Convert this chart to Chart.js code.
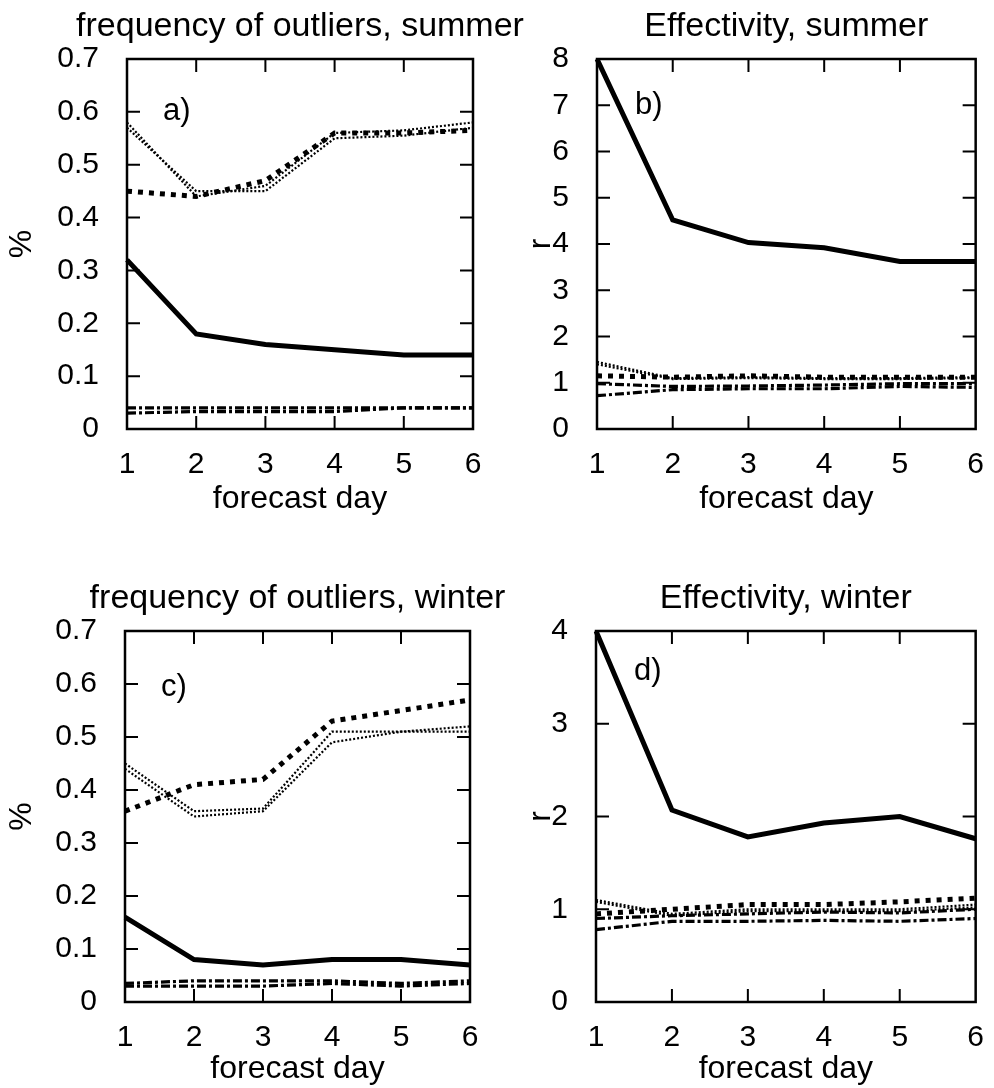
<!DOCTYPE html>
<html>
<head>
<meta charset="utf-8">
<script src="https://cdn.jsdelivr.net/npm/chart.js@4"></script>
<style>
    body { margin: 0; background: #fff; }
    #wrap { position: relative; width: 994px; height: 1088px; }
    canvas { position: absolute; }
</style>
</head>
<body>
<div id="wrap">
    <canvas id="a" width="560" height="544" style="left:0;top:0"></canvas>
    <canvas id="b" width="497" height="544" style="left:497px;top:0"></canvas>
    <canvas id="c" width="560" height="544" style="left:0;top:544px"></canvas>
    <canvas id="d" width="497" height="544" style="left:497px;top:544px"></canvas>
</div>
<script>
const days = ['1', '2', '3', '4', '5', '6'];

// a) frequency of outliers, summer
const freqSummerSolid = [0.32, 0.18, 0.16, 0.15, 0.14, 0.14];
const freqSummerDashed = [0.45, 0.44, 0.47, 0.56, 0.56, 0.565];
const freqSummerDotted1 = [0.58, 0.44, 0.46, 0.56, 0.565, 0.58];
const freqSummerDotted2 = [0.57, 0.45, 0.45, 0.55, 0.555, 0.57];
const freqSummerDashDot1 = [0.04, 0.04, 0.04, 0.04, 0.04, 0.04];
const freqSummerDashDot2 = [0.03, 0.033, 0.033, 0.033, 0.04, 0.04];

// b) effectivity, summer
const effSummerSolid = [8.0, 4.52, 4.03, 3.92, 3.62, 3.62];
const effSummerDashed = [1.15, 1.12, 1.15, 1.12, 1.12, 1.12];
const effSummerDotted1 = [1.45, 1.1, 1.12, 1.1, 1.1, 1.12];
const effSummerDotted2 = [1.4, 1.08, 1.1, 1.08, 1.08, 1.1];
const effSummerDashDot1 = [0.98, 0.92, 0.93, 0.95, 0.98, 0.98];
const effSummerDashDot2 = [0.72, 0.85, 0.87, 0.87, 0.92, 0.9];

// c) frequency of outliers, winter
const freqWinterSolid = [0.16, 0.08, 0.07, 0.08, 0.08, 0.07];
const freqWinterDashed = [0.36, 0.41, 0.42, 0.53, 0.55, 0.57];
const freqWinterDotted1 = [0.45, 0.36, 0.365, 0.51, 0.51, 0.52];
const freqWinterDotted2 = [0.44, 0.35, 0.36, 0.49, 0.51, 0.51];
const freqWinterDashDot1 = [0.035, 0.04, 0.04, 0.04, 0.035, 0.04];
const freqWinterDashDot2 = [0.03, 0.03, 0.03, 0.035, 0.03, 0.035];

// d) effectivity, winter
const effWinterSolid = [4.0, 2.07, 1.78, 1.93, 2.0, 1.76];
const effWinterDashed = [0.95, 1.0, 1.05, 1.05, 1.08, 1.12];
const effWinterDotted1 = [1.1, 0.95, 1.0, 1.0, 1.0, 1.05];
const effWinterDotted2 = [1.08, 0.93, 0.98, 0.98, 0.98, 1.02];
const effWinterDashDot1 = [0.9, 0.93, 0.95, 0.97, 0.96, 1.0];
const effWinterDashDot2 = [0.78, 0.87, 0.87, 0.88, 0.87, 0.9];

const FONT = "'Liberation Sans', Arial, sans-serif";

// line styles shared by all panels
const solid = data => ({ data, borderColor: '#000', borderWidth: 5, pointRadius: 0 });
const dashed = data => ({ data, borderColor: '#000', borderWidth: 5, borderDash: [5, 6], pointRadius: 0 });
const dotted = data => ({ data, borderColor: '#000', borderWidth: 2.2, borderDash: [2, 2], pointRadius: 0 });
const dashDot = data => ({ data, borderColor: '#000', borderWidth: 3.2, borderDash: [9, 3, 3, 3], pointRadius: 0 });

// box around the plot, inward ticks on all four sides, title and panel tag
const framePlugin = {
    id: 'frame',
    afterDraw(chart, args, opts) {
        const { ctx, chartArea: ca, scales } = chart;
        ctx.save();
        ctx.strokeStyle = '#000';
        ctx.lineWidth = 2.5;
        ctx.strokeRect(ca.left, ca.top, ca.right - ca.left, ca.bottom - ca.top);
        const len = 13;
        ctx.lineWidth = 2;
        ctx.beginPath();
        scales.x.ticks.forEach((t, i) => {
            if (i === 0 || i === scales.x.ticks.length - 1) return;
            const x = scales.x.getPixelForTick(i);
            ctx.moveTo(x, ca.bottom); ctx.lineTo(x, ca.bottom - len);
            ctx.moveTo(x, ca.top); ctx.lineTo(x, ca.top + len);
        });
        scales.y.ticks.forEach((t, i) => {
            if (i === 0 || i === scales.y.ticks.length - 1) return;
            const y = scales.y.getPixelForValue(t.value);
            ctx.moveTo(ca.left, y); ctx.lineTo(ca.left + len, y);
            ctx.moveTo(ca.right, y); ctx.lineTo(ca.right - len, y);
        });
        ctx.stroke();

        ctx.fillStyle = '#000';
        ctx.font = '34px ' + FONT;
        ctx.textAlign = 'center';
        ctx.textBaseline = 'middle';
        ctx.fillText(opts.title, (ca.left + ca.right) / 2, ca.top - 32);
        ctx.textAlign = 'left';
        ctx.font = '31px ' + FONT;
        ctx.fillText(opts.tag, ca.left + opts.tagX, ca.top + opts.tagY);
        ctx.restore();
    }
};

function makePanel(id, cfg) {
    new Chart(document.getElementById(id), {
        type: 'line',
        data: { labels: days, datasets: cfg.datasets },
        plugins: [framePlugin],
        options: {
            responsive: false,
            animation: false,
            layout: { padding: { top: cfg.top, right: cfg.right, left: 0, bottom: 0 } },
            plugins: {
                legend: { display: false },
                tooltip: { enabled: false },
                frame: { title: cfg.title, tag: cfg.tag, tagX: cfg.tagX, tagY: cfg.tagY }
            },
            scales: {
                x: {
                    offset: false,
                    grid: { display: false },
                    border: { display: false },
                    ticks: { color: '#000', font: { size: 30, family: FONT }, padding: 10, maxRotation: 0 },
                    title: { display: true, text: 'forecast day', color: '#000', font: { size: 32, family: FONT }, padding: { bottom: cfg.xTitlePad } },
                    afterFit: s => { s.height = cfg.xHeight; }
                },
                y: {
                    min: 0,
                    max: cfg.yMax,
                    grid: { display: false },
                    border: { display: false },
                    ticks: { stepSize: cfg.yStep, color: '#000', font: { size: 30, family: FONT }, padding: 20 },
                    title: { display: true, text: cfg.yTitle, color: '#000', font: { size: 32, family: FONT }, padding: { top: cfg.yTitlePad } },
                    afterFit: s => { s.width = cfg.yWidth; }
                }
            }
        }
    });
}

makePanel('a', {
    title: 'frequency of outliers, summer', tag: 'a)', tagX: 36, tagY: 52,
    yTitle: '%', yMax: 0.7, yStep: 0.1,
    top: 59, right: 87, yWidth: 127, xHeight: 115, xTitlePad: 26, yTitlePad: 3,
    datasets: [
        dashDot(freqSummerDashDot1), dashDot(freqSummerDashDot2),
        dotted(freqSummerDotted1), dotted(freqSummerDotted2),
        dashed(freqSummerDashed), solid(freqSummerSolid)
    ]
});

makePanel('b', {
    title: 'Effectivity, summer', tag: 'b)', tagX: 38, tagY: 46,
    yTitle: 'r', yMax: 8, yStep: 1,
    top: 59, right: 12, yWidth: 100, xHeight: 115, xTitlePad: 26, yTitlePad: 25,
    datasets: [
        dashDot(effSummerDashDot1), dashDot(effSummerDashDot2),
        dotted(effSummerDotted1), dotted(effSummerDotted2),
        dashed(effSummerDashed), solid(effSummerSolid)
    ]
});

makePanel('c', {
    title: 'frequency of outliers, winter', tag: 'c)', tagX: 36, tagY: 56,
    yTitle: '%', yMax: 0.7, yStep: 0.1,
    top: 87, right: 90, yWidth: 125, xHeight: 86, xTitlePad: 0, yTitlePad: 3,
    datasets: [
        dashDot(freqWinterDashDot1), dashDot(freqWinterDashDot2),
        dotted(freqWinterDotted1), dotted(freqWinterDotted2),
        dashed(freqWinterDashed), solid(freqWinterSolid)
    ]
});

makePanel('d', {
    title: 'Effectivity, winter', tag: 'd)', tagX: 38, tagY: 40,
    yTitle: 'r', yMax: 4, yStep: 1,
    top: 87, right: 13, yWidth: 99, xHeight: 86, xTitlePad: 0, yTitlePad: 25,
    datasets: [
        dashDot(effWinterDashDot1), dashDot(effWinterDashDot2),
        dotted(effWinterDotted1), dotted(effWinterDotted2),
        dashed(effWinterDashed), solid(effWinterSolid)
    ]
});
</script>
</body>
</html>
